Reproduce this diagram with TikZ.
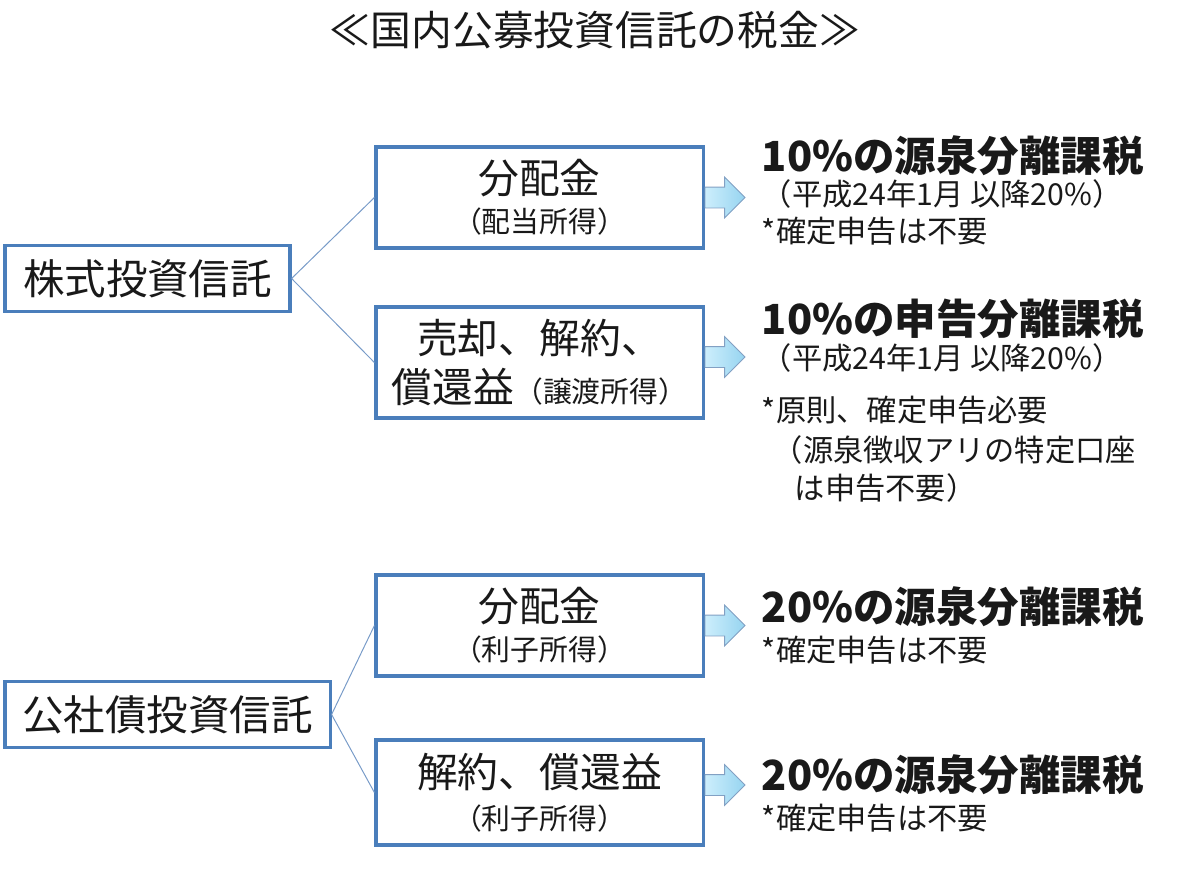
\documentclass[tikz,border=0pt]{standalone}
\usepackage{fontspec}
\setmainfont{Noto Sans CJK JP}
\usetikzlibrary{shapes.arrows}

\definecolor{boxblue}{RGB}{74,126,187}
\definecolor{linkblue}{RGB}{120,155,200}
\definecolor{arrowedge}{RGB}{130,160,195}
\definecolor{arrowlight}{RGB}{205,238,252}
\definecolor{arrowdark}{RGB}{150,212,240}
\definecolor{ink}{RGB}{25,25,25}

\begin{document}
\begin{tikzpicture}[
    x=0.025cm, y=-0.025cm,
    every node/.style={text=ink},
    box/.style={draw=boxblue, line width=2.2pt, fill=white, align=center,
        minimum width=8.175cm, inner sep=0pt,
        font=\fontsize{29}{27.5}\selectfont},
    rootbox/.style={draw=boxblue, line width=2.2pt, fill=white,
        minimum height=1.65cm, inner sep=0pt,
        font=\fontsize{29.5}{30}\selectfont},
    link/.style={draw=linkblue, line width=0.7pt},
    blockarrow/.style={single arrow, draw=arrowedge, line width=0.6pt,
        left color=arrowlight, right color=arrowdark,
        inner xsep=0pt, inner ysep=0.25cm, single arrow head extend=0.25cm,
        minimum height=1cm},
    head/.style={anchor=west, font=\fontsize{29.5}{32}\selectfont\bfseries},
    note/.style={anchor=west, font=\fontsize{21.5}{24}\selectfont}
]

    \useasboundingbox (0,0) rectangle (1200,875);

    \node[font=\fontsize{29}{30}\selectfont] (title) at (595,30) {≪国内公募投資信託の税金≫};

    \node[rootbox, minimum width=7.125cm] (kabu) at (147.5,278.5) {株式投資信託};

    \node[box, minimum height=2.525cm] (haitou) at (539.5,197.5)
        {分配金\\{\fontsize{20.5}{20}\selectfont （配当所得）}};
    \node[box, minimum height=2.775cm] (jouto) at (539.5,362.5)
        {売却、解約、\\[8pt]償還益{\fontsize{20.5}{20}\selectfont （譲渡所得）}};

    \node[rootbox, minimum width=8.125cm] (kousha) at (167.5,714.5) {公社債投資信託};

    \node[box, minimum height=2.525cm] (rishi) at (539.5,625.5)
        {分配金\\{\fontsize{20.5}{20}\selectfont （利子所得）}};
    \node[box, minimum height=2.625cm] (shoukan) at (539.5,792.5)
        {解約、償還益\\[2pt]{\fontsize{20.5}{20}\selectfont （利子所得）}};

    \draw[link] (kabu.east) -- (haitou.west);
    \draw[link] (kabu.east) -- (jouto.west);
    \draw[link] (kousha.east) -- (rishi.west);
    \draw[link] (kousha.east) -- (shoukan.west);

    \node[blockarrow, anchor=west] (A1) at (haitou.east) {};
    \node[blockarrow, anchor=west] (A2) at (jouto.east |- 0,357) {};
    \node[blockarrow, anchor=west] (A3) at (rishi.east) {};
    \node[blockarrow, anchor=west] (A4) at (shoukan.east |- 0,785) {};

    \node[head] (H1) at (757,156) {10\%の源泉分離課税};
    \node[note] (N1a) at (757,194) {（平成24年1月 以降20\%）};
    \node[note] (N1b) at (757,231) {*確定申告は不要};

    \node[head] (H2) at (757,319) {10\%の申告分離課税};
    \node[note] (N2a) at (757,358) {（平成24年1月 以降20\%）};
    \node[note] (N2b) at (757,410) {*原則、確定申告必要};
    \node[note] (N2c) at (768,450) {（源泉徴収アリの特定口座};
    \node[note] (N2d) at (790,488) {は申告不要）};

    \node[head] (H3) at (757,607) {20\%の源泉分離課税};
    \node[note] (N3) at (757,650) {*確定申告は不要};

    \node[head] (H4) at (757,775) {20\%の源泉分離課税};
    \node[note] (N4) at (757,818) {*確定申告は不要};

\end{tikzpicture}
\end{document}
